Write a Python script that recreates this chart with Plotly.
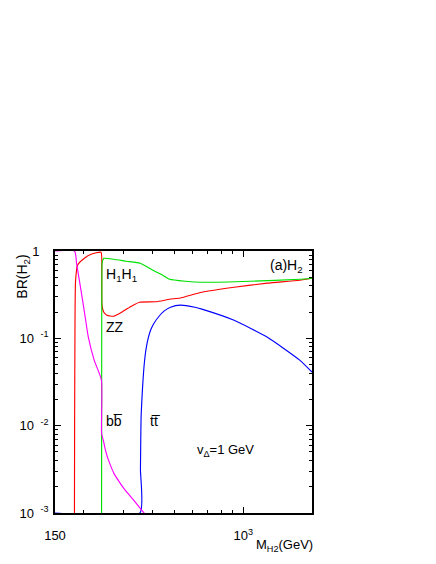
import numpy as np
import plotly.graph_objects as go

# ---- data (M_H2 in GeV, branching ratio) ----
zz_mass = [182.4, 182.8, 183.5, 184.5, 188.2, 201.7, 216.0, 238.5, 240.2, 240.9, 245.0,
           253.0, 271.0, 299.0, 324.0, 351.5, 414.0, 476.0, 530.0, 659.0, 912.0, 1276.0,
           1767.0, 2000.0]
zz_br = [0.0005, 0.01, 0.15, 0.45, 0.687, 0.825, 0.917, 0.966, 0.6, 0.24, 0.20,
         0.184, 0.179, 0.205, 0.233, 0.259, 0.262, 0.280, 0.290, 0.337, 0.385, 0.428,
         0.463, 0.488]

hh_mass = [239.8, 240.0, 240.2, 240.6, 241.5, 245.6, 271.0, 308.0, 354.0, 402.0, 444.0,
           476.0, 557.0, 659.0, 1079.0, 1767.0, 2000.0]
hh_br = [0.0005, 0.01, 0.1, 0.5, 0.75, 0.825, 0.804, 0.763, 0.724, 0.602, 0.528,
         0.475, 0.451, 0.439, 0.451, 0.475, 0.488]

tt_mass = [150.0, 353.1, 354.9, 356.0, 357.3, 360.8, 364.5, 369.2, 375.5, 384.0, 394.5,
           407.5, 428.0, 450.0, 480.5, 530.0, 615.0, 659.0, 912.0, 1276.0, 1767.0, 2000.0]
tt_br = [0.001, 0.001, 0.00312, 0.00687, 0.0129, 0.0218, 0.0342, 0.0525, 0.0753, 0.101, 0.127,
         0.150, 0.179, 0.205, 0.227, 0.240, 0.227, 0.216, 0.161, 0.103, 0.0563, 0.041]

bb_mass = [150.0, 182.7, 186.4, 192.0, 197.7, 203.7, 209.9, 222.6, 239.5, 239.9, 244.4,
           249.3, 254.3, 261.9, 271.0, 284.8, 299.0, 330.0, 364.5, 371.7]
bb_br = [1.0, 1.0, 0.723, 0.451, 0.281, 0.170, 0.103, 0.0563, 0.0333, 0.00825, 0.00669,
         0.00527, 0.00439, 0.00356, 0.00288, 0.00233, 0.00194, 0.00142, 0.00103, 0.00097]

x_tickvals = [150, 1000]
x_ticktext = ["150", "10<sup>3</sup>"]
x_minor = [200, 300, 400, 500, 600, 700, 800, 900, 2000]
y_tickvals = [0.001, 0.01, 0.1, 1]
y_ticktext = ["10\u2002<sup>-3</sup>", "10\u2002<sup>-2</sup>", "10\u2002<sup>-1</sup>", "1\u2002\u2009"]
y_minor = [m * 10.0 ** e for e in (-3, -2, -1) for m in range(2, 10)]

FONT = "Liberation Sans, Arial, Helvetica, sans-serif"

# page body has an 8px margin in the exported html
OFF = 8
PAGE_W, PAGE_H = 436, 564
FIG_W, FIG_H = PAGE_W - 2 * OFF, PAGE_H - 2 * OFF
# plot frame in page pixels
L, R, T, B = 50, 312, 251, 513
W, H = R - L, B - T

LW = 1.15
fig = go.Figure()
fig.add_trace(go.Scatter(x=zz_mass, y=zz_br, mode="lines",
                         line=dict(color="#ff0000", width=LW, shape="spline", smoothing=0.5)))
fig.add_trace(go.Scatter(x=hh_mass, y=hh_br, mode="lines",
                         line=dict(color="#00e000", width=LW, shape="spline", smoothing=0.5)))
fig.add_trace(go.Scatter(x=tt_mass, y=tt_br, mode="lines",
                         line=dict(color="#0000ff", width=LW, shape="spline", smoothing=0.5)))
fig.add_trace(go.Scatter(x=bb_mass, y=bb_br, mode="lines",
                         line=dict(color="#ff00ff", width=LW, shape="spline", smoothing=0.5)))

axis_common = dict(
    showline=True, linecolor="black", linewidth=1.5, mirror="ticks",
    ticks="inside", ticklen=6, tickwidth=1, tickcolor="black",
    showgrid=False, zeroline=False, layer="below traces",
    tickfont=dict(family=FONT, size=13, color="black"),
)

fig.update_xaxes(type="log", range=[np.log10(150), np.log10(2000)],
                 tickmode="array", tickvals=x_tickvals, ticktext=x_ticktext,
                 ticklabelstandoff=10,
                 minor=dict(tickmode="array", tickvals=x_minor, ticks="inside",
                            ticklen=3, tickcolor="black", showgrid=False),
                 **axis_common)
fig.update_yaxes(type="log", range=[-3, 0],
                 tickmode="array", tickvals=y_tickvals, ticktext=y_ticktext,
                 ticklabelstandoff=2,
                 minor=dict(tickmode="array", tickvals=y_minor, ticks="inside",
                            ticklen=3, tickcolor="black", showgrid=False),
                 **axis_common)


def px(xp):
    return (xp - L) / W


def py(yp):
    return (B - yp) / H


def note(text, x, y, size=13, xanchor="left", yanchor="middle", angle=0):
    fig.add_annotation(text=text, x=px(x), y=py(y), xref="paper", yref="paper",
                       showarrow=False, xanchor=xanchor, yanchor=yanchor, textangle=angle,
                       font=dict(family=FONT, size=size, color="black"))


note("H<sub>1</sub>H<sub>1</sub>", 100, 275, size=14)
note("ZZ", 100, 327, size=14)
note("bb\u0305", 100, 421, size=14)
note("tt\u0305", 145, 421, size=14)
note("v<sub>\u0394</sub>=1 GeV", 193, 450, size=13)
note("(a)H<sub>2</sub>", 267, 266, size=14)
note("BR(H<sub>2</sub>)", 17, 277, size=14, xanchor="center", angle=-90)
note("M<sub>H2</sub>(GeV)", 253, 545, size=13)

fig.update_layout(
    width=FIG_W, height=FIG_H,
    margin=dict(l=L - OFF, r=FIG_W - (R - OFF), t=T - OFF, b=FIG_H - (B - OFF)),
    paper_bgcolor="white", plot_bgcolor="white",
    showlegend=False,
    font=dict(family=FONT, size=13, color="black"),
)

fig.write_html("out.html")
